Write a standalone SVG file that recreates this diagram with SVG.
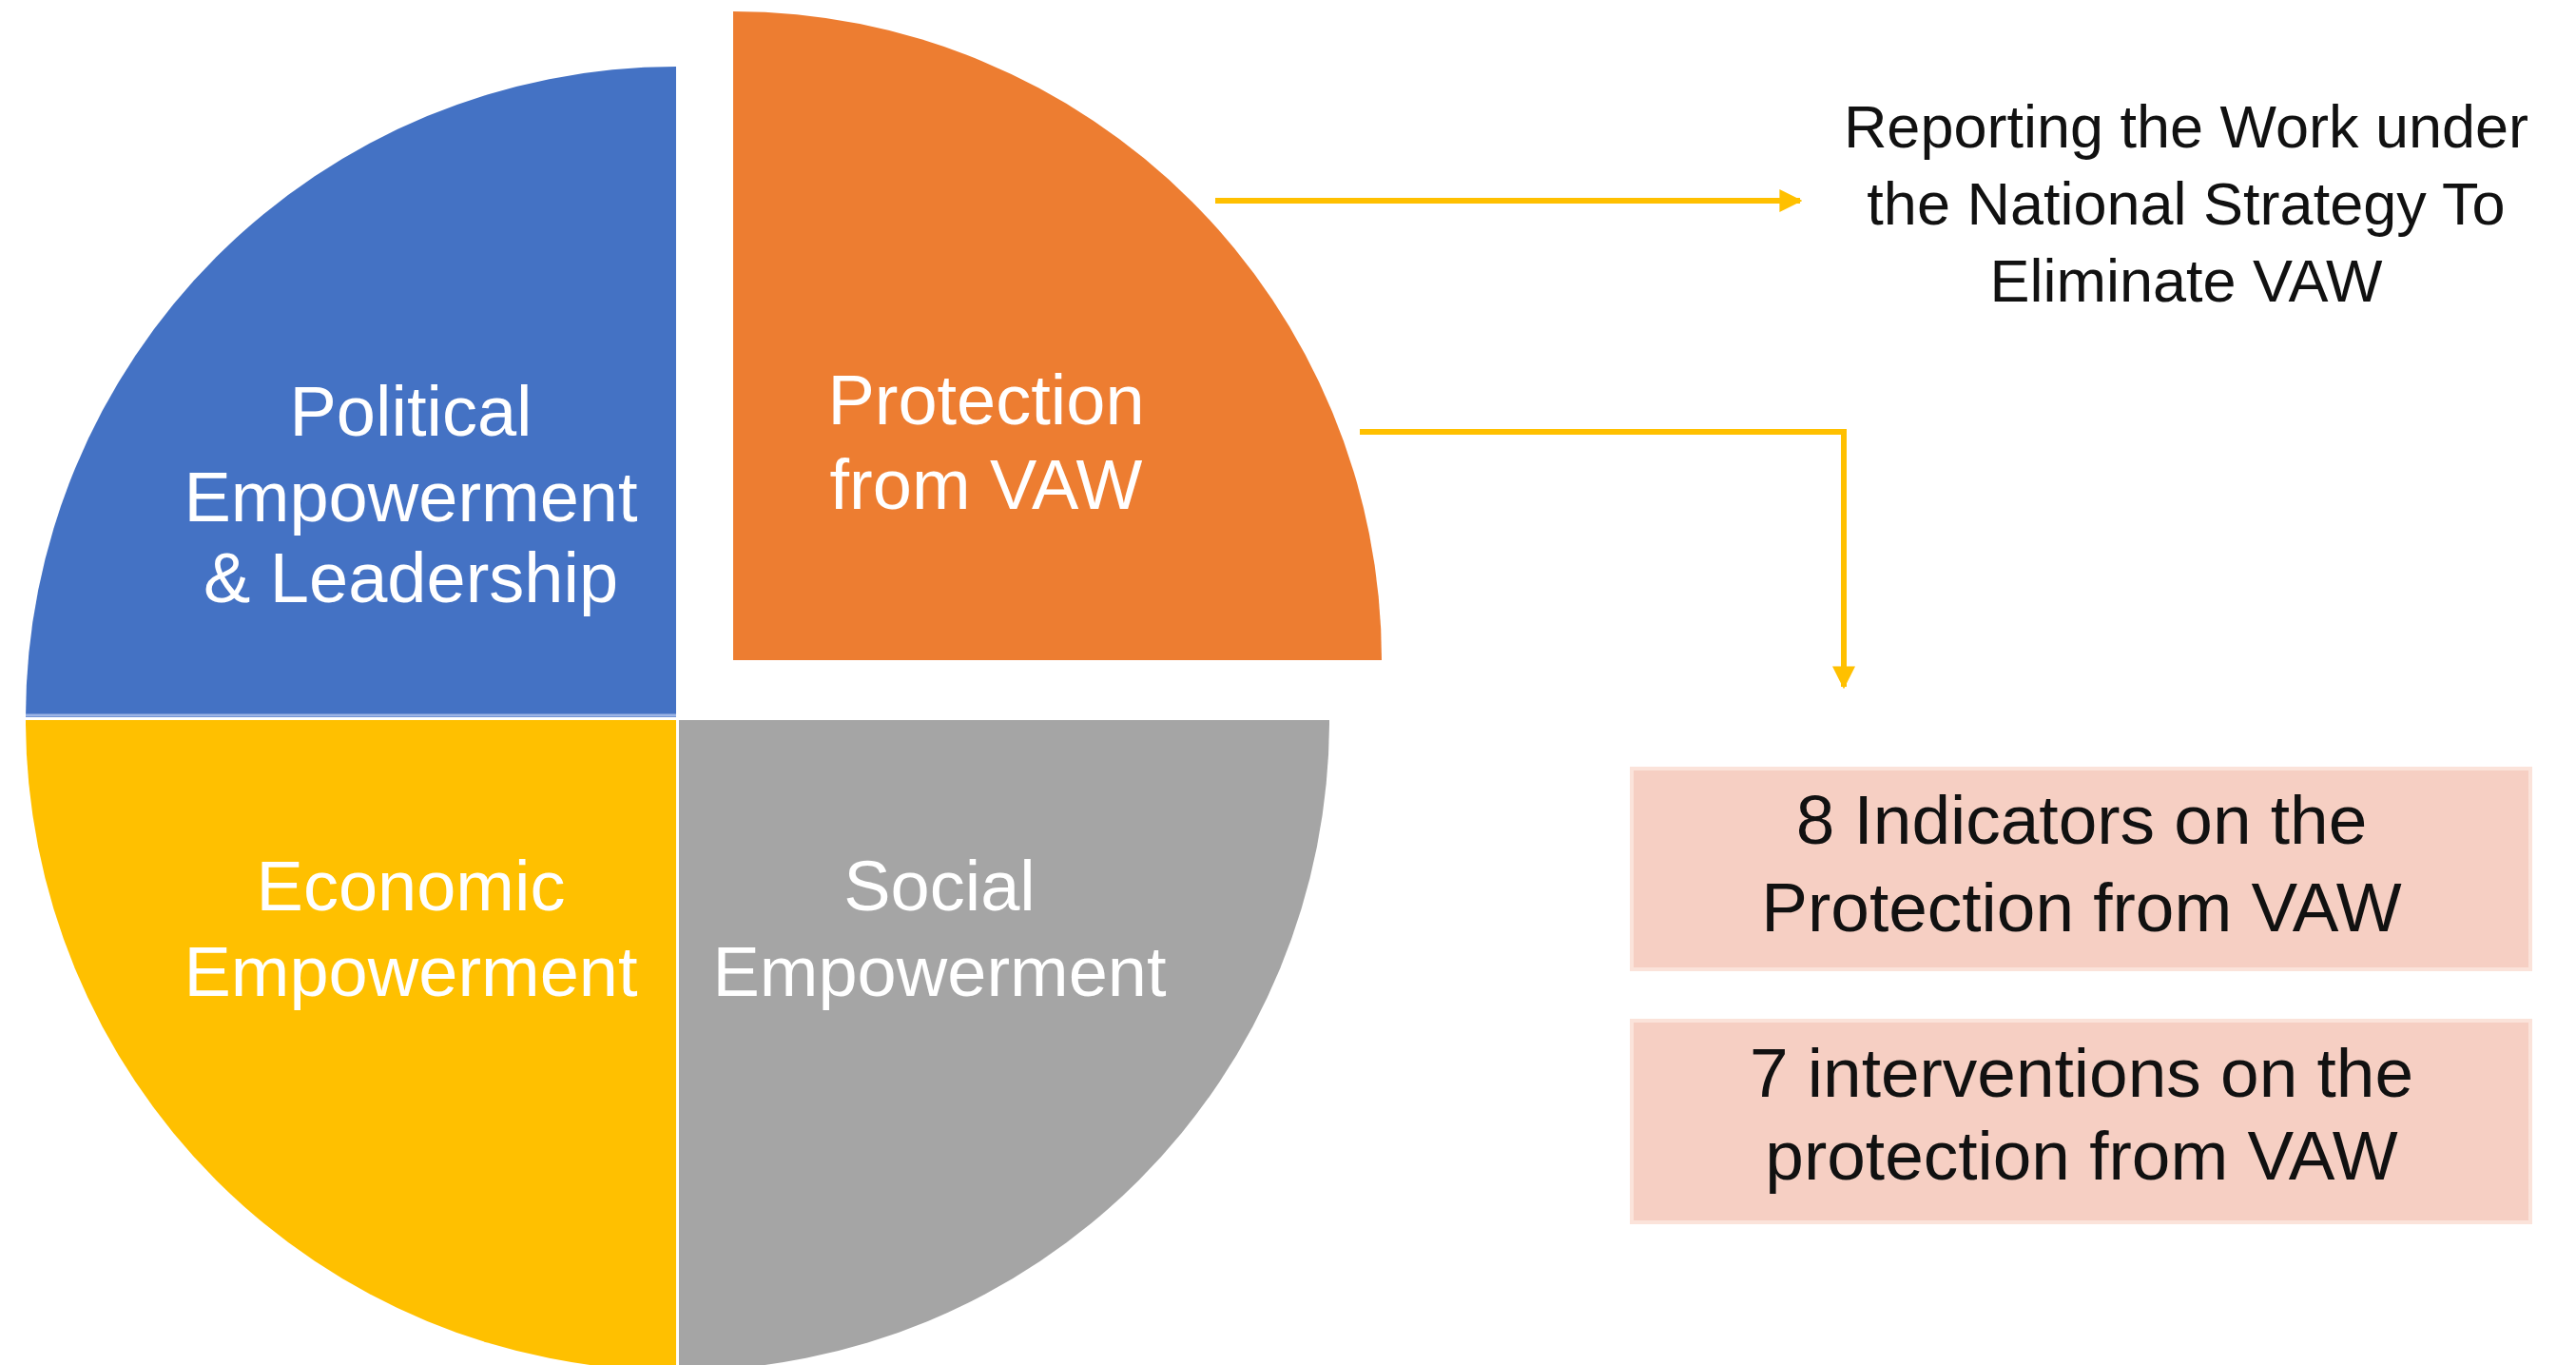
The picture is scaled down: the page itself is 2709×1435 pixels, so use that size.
<svg xmlns="http://www.w3.org/2000/svg" width="2709" height="1435" viewBox="0 0 2709 1435">
<defs>
<style>
.lbl{font-family:"Liberation Sans",Arial,sans-serif;font-size:74px;fill:#ffffff;text-anchor:middle}
.txt{font-family:"Liberation Sans",Arial,sans-serif;fill:#111111;text-anchor:middle}
.box{fill:#F6CFC3;stroke:#FBE3DA;stroke-width:4}
.conn{fill:none;stroke:#FFC000;stroke-width:6}
</style>
<marker id="ah" viewBox="0 0 10 10" refX="9" refY="5" markerWidth="4" markerHeight="4" markerUnits="strokeWidth" orient="auto">
<path d="M0,0 L10,5 L0,10 Z" fill="#FFC000"/>
</marker>
</defs>
<rect width="2709" height="1435" fill="#ffffff"/>
<g id="political">
<path d="M711,754 L711,70 A684,684 0 0 0 27,754 Z" fill="#4472C4"/>
<path d="M27,752 L711,752" stroke="#9DB5E6" stroke-width="3"/>
<text class="lbl" x="432" y="458">Political</text>
<text class="lbl" x="432" y="548">Empowerment</text>
<text class="lbl" x="432" y="633">&amp; Leadership</text>
</g>
<g id="protection">
<path d="M771,694 L771,12 A682,682 0 0 1 1453,694 Z" fill="#ED7D31"/>
<text class="lbl" x="1037" y="446">Protection</text>
<text class="lbl" x="1037" y="535">from VAW</text>
</g>
<g id="economic">
<path d="M711,757 L27,757 A684,684 0 0 0 711,1441 Z" fill="#FFC000"/>
<text class="lbl" x="432" y="957">Economic</text>
<text class="lbl" x="432" y="1047">Empowerment</text>
</g>
<g id="social">
<path d="M714,757 L714,1441 A684,684 0 0 0 1398,757 Z" fill="#A5A5A5"/>
<text class="lbl" x="988" y="957">Social</text>
<text class="lbl" x="988" y="1047">Empowerment</text>
</g>
<g id="reporting">
<text class="txt" font-size="63" x="2299" y="155">Reporting the Work under</text>
<text class="txt" font-size="63" x="2299" y="236">the National Strategy To</text>
<text class="txt" font-size="63" x="2299" y="317">Eliminate VAW</text>
</g>
<g id="indicators">
<rect class="box" x="1716" y="808" width="945" height="211"/>
<text class="txt" font-size="73" x="2189" y="887">8 Indicators on the</text>
<text class="txt" font-size="73" x="2189" y="979">Protection from VAW</text>
</g>
<g id="interventions">
<rect class="box" x="1716" y="1073" width="945" height="212"/>
<text class="txt" font-size="73" x="2189" y="1153">7 interventions on the</text>
<text class="txt" font-size="73" x="2189" y="1240">protection from VAW</text>
</g>
<g id="connectors">
<path class="conn" d="M1278,211 L1893,211" marker-end="url(#ah)"/>
<path class="conn" d="M1430,454 L1939,454 L1939,722" marker-end="url(#ah)"/>
</g>
</svg>
